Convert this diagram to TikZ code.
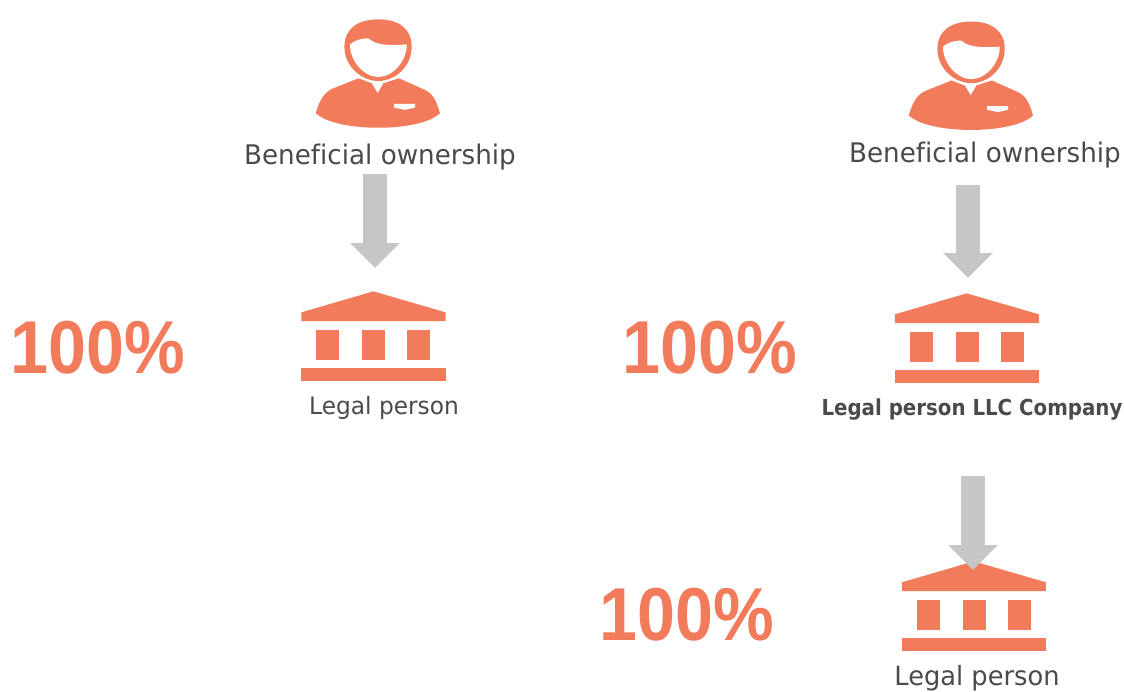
\documentclass[tikz,border=0pt]{standalone}
\usepackage{fontspec}
\usepackage{xcolor}
\usetikzlibrary{arrows.meta}
\setmainfont{DejaVu Sans}
\newfontfamily\percentfont[FakeStretch=0.91]{Liberation Sans Bold}
\newfontfamily\labelfont[FakeStretch=0.97,Ligatures=NoCommon]{DejaVu Sans}
\newfontfamily\boldlabelfont[FakeStretch=0.9]{DejaVu Sans Bold}
\definecolor{salmon}{HTML}{F17B5B}
\definecolor{arrowgrey}{HTML}{C6C6C6}
\definecolor{textgrey}{HTML}{4A4A4A}
\tikzset{
	percent/.style={text=salmon,font=\fontsize{75}{75}\percentfont},
	ownerlabel/.style={text=textgrey,font=\fontsize{27}{27}\labelfont},
	personlabel/.style={text=textgrey,font=\fontsize{24}{24}\labelfont},
	largelabel/.style={text=textgrey,font=\fontsize{26.5}{26.5}\labelfont,inner sep=0pt},
	companylabel/.style={text=textgrey,font=\fontsize{22}{22}\boldlabelfont},
	blockarrow/.style={draw=arrowgrey,line width=24pt,-{Triangle[width=48pt,length=25pt]}},
	owner/.pic={
		\begin{scope}[x=0.333pt,y=-0.333pt,shift={(-233,-190)}]
			\fill[salmon] (133,110) .. controls (133,55) and (175,28) .. (235,28) .. controls (295,28) and (335,55) .. (335,110) .. controls (335,170) and (285,213) .. (235,213) .. controls (185,213) and (133,170) .. (133,110) -- cycle;
			\fill[white] (150,103) .. controls (165,90) and (185,85) .. (205,85) .. controls (225,105) and (270,108) .. (320,103) .. controls (322,150) and (280,201) .. (235,201) .. controls (190,201) and (148,150) .. (150,103) -- cycle;
			\fill[salmon] (47,310) .. controls (60,265) and (75,245) .. (100,235) -- (175,205) -- (215,220) -- (233,250) -- (250,220) -- (297,205) -- (375,240) .. controls (400,252) and (410,275) .. (420,310) .. controls (360,368) and (110,368) .. (47,310) -- cycle;
			\fill[white] (282,282) -- (345,282) -- (345,293) -- (315,300) -- (282,293) -- cycle;
		\end{scope}
	},
	bank/.pic={
		\begin{scope}[x=0.333pt,y=-0.333pt,shift={(-280,-273)}]
			\fill[salmon] (64,247) -- (280,184) -- (497,247) -- (497,273) -- (64,273) -- cycle;
			\foreach \colx in {109,247,382} {
				\fill[salmon] (\colx,300) rectangle ++(69,90);
			}
			\fill[salmon] (64,415) rectangle (497,453);
		\end{scope}
	}
}

\begin{document}
\begin{tikzpicture}[x=1pt,y=-1pt]
	\useasboundingbox (0,0) rectangle (1124,691);

	% left column
	\pic at (377.7,73.3) {owner};
	\node[ownerlabel] (ownerA) at (380,157.5) {Beneficial ownership};
	\pic at (373.3,321) {bank};
	\node[personlabel] (personA) at (384,408) {Legal person};
	\node[percent] (percentA) at (98,347.5) {100\%};
	\coordinate (arrowAtop) at (375,174);
	\coordinate (arrowAtip) at (375,268);
	\draw[blockarrow] (arrowAtop) -- (arrowAtip);

	% right column
	\pic at (970.7,75.5) {owner};
	\node[ownerlabel] (ownerB) at (985,155.5) {Beneficial ownership};
	\pic at (966.7,323) {bank};
	\node[companylabel] (personB) at (972,410) {Legal person LLC Company};
	\node[percent] (percentB) at (710,347.5) {100\%};
	\coordinate (arrowBtop) at (968,185);
	\coordinate (arrowBtip) at (968,278);
	\draw[blockarrow] (arrowBtop) -- (arrowBtip);

	\pic at (973.7,591) {bank};
	\node[largelabel] (personC) at (977,678.5) {Legal person};
	\node[percent] (percentC) at (687,614.5) {100\%};
	\coordinate (arrowCtop) at (973,476);
	\coordinate (arrowCtip) at (973,570);
	\draw[blockarrow] (arrowCtop) -- (arrowCtip);
\end{tikzpicture}
\end{document}
